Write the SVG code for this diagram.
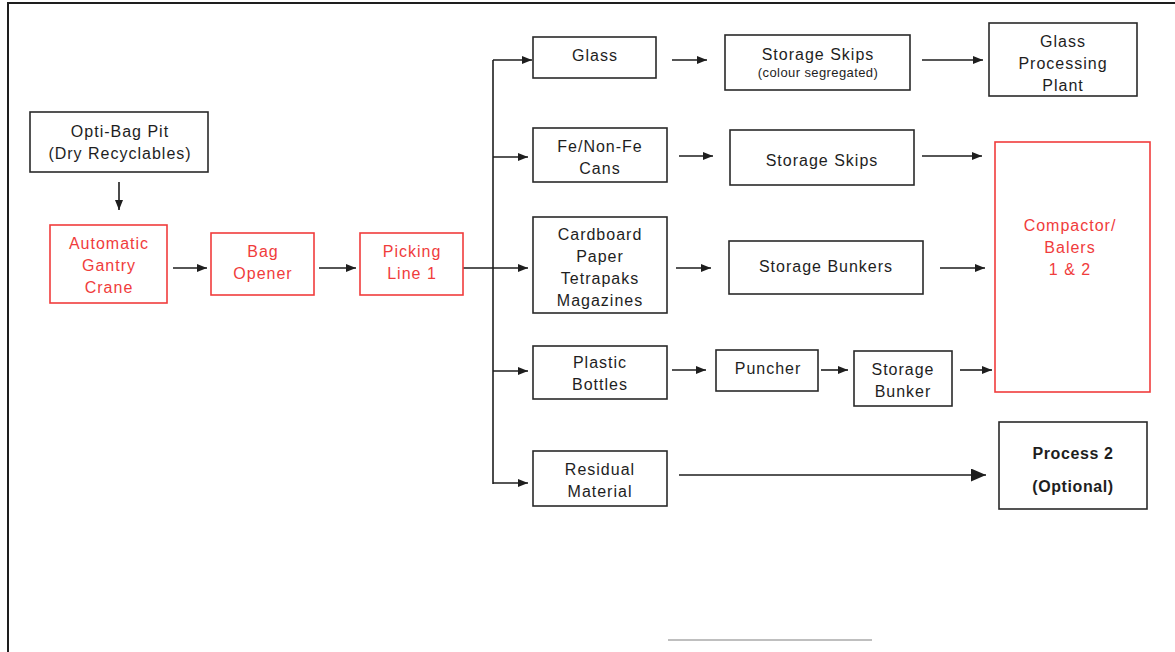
<svg xmlns="http://www.w3.org/2000/svg" width="1175" height="652" viewBox="0 0 1175 652">
  <defs>
    <style>
      .box { fill: #fff; stroke: #2a2a2a; stroke-width: 1.6; }
      .rbox { fill: #fff; stroke: #f03c3c; stroke-width: 1.6; }
      .t { font-family: "Liberation Sans", Arial, sans-serif; font-size: 16px; letter-spacing: 1px; fill: #1e1e1e; text-anchor: middle; }
      .r { fill: #f03c3c; }
      .s { font-size: 13px; letter-spacing: 0.4px; }
      .b { font-weight: bold; letter-spacing: 0.6px; }
      .c { stroke: #1e1e1e; stroke-width: 1.6; fill: none; }
    </style>
    <marker id="ah" markerUnits="userSpaceOnUse" markerWidth="10" markerHeight="8" refX="10" refY="4" orient="auto">
      <path d="M0,0 L10,4 L0,8 Z" fill="#1e1e1e"/>
    </marker>
    <marker id="ahBig" markerUnits="userSpaceOnUse" markerWidth="15" markerHeight="13" refX="15" refY="6.5" orient="auto">
      <path d="M0,0 L15,6.5 L0,13 Z" fill="#1e1e1e"/>
    </marker>
  </defs>

  <rect width="1175" height="652" fill="#fff"/>

  <!-- page frame -->
  <path d="M8,652 L8,3 L1175,3" fill="none" stroke="#1e1e1e" stroke-width="2"/>
  <line x1="668" y1="640" x2="872" y2="640" stroke="#aaa" stroke-width="1.5"/>

  <g id="connectors">
    <line class="c" x1="119" y1="182" x2="119" y2="210" marker-end="url(#ah)"/>
    <line class="c" x1="173" y1="268" x2="207" y2="268" marker-end="url(#ah)"/>
    <line class="c" x1="319" y1="268" x2="356" y2="268" marker-end="url(#ah)"/>
    <line class="c" x1="463" y1="268" x2="528" y2="268" marker-end="url(#ah)"/>
    <line class="c" x1="493" y1="60" x2="493" y2="484"/>
    <line class="c" x1="493" y1="60" x2="532" y2="60" marker-end="url(#ah)"/>
    <line class="c" x1="493" y1="157" x2="528" y2="157" marker-end="url(#ah)"/>
    <line class="c" x1="493" y1="371" x2="528" y2="371" marker-end="url(#ah)"/>
    <line class="c" x1="493" y1="483" x2="528" y2="483" marker-end="url(#ah)"/>
    <line class="c" x1="672" y1="60" x2="707" y2="60" marker-end="url(#ah)"/>
    <line class="c" x1="922" y1="60" x2="983" y2="60" marker-end="url(#ah)"/>
    <line class="c" x1="679" y1="156" x2="713" y2="156" marker-end="url(#ah)"/>
    <line class="c" x1="922" y1="156" x2="982" y2="156" marker-end="url(#ah)"/>
    <line class="c" x1="676" y1="268" x2="711" y2="268" marker-end="url(#ah)"/>
    <line class="c" x1="940" y1="268" x2="985" y2="268" marker-end="url(#ah)"/>
    <line class="c" x1="672" y1="370" x2="706" y2="370" marker-end="url(#ah)"/>
    <line class="c" x1="821" y1="370" x2="848" y2="370" marker-end="url(#ah)"/>
    <line class="c" x1="960" y1="370" x2="992" y2="370" marker-end="url(#ah)"/>
    <line class="c" x1="679" y1="475" x2="986" y2="475" marker-end="url(#ahBig)"/>
  </g>

  <g id="opti-bag-pit">
    <rect class="box" x="30" y="112" width="178" height="60"/>
    <text class="t" x="120" y="137">Opti-Bag Pit</text>
    <text class="t" x="120" y="159">(Dry Recyclables)</text>
  </g>

  <g id="gantry-crane">
    <rect class="rbox" x="50" y="225" width="117" height="78"/>
    <text class="t r" x="109" y="249">Automatic</text>
    <text class="t r" x="109" y="271">Gantry</text>
    <text class="t r" x="109" y="293">Crane</text>
  </g>

  <g id="bag-opener">
    <rect class="rbox" x="211" y="233" width="103" height="62"/>
    <text class="t r" x="263" y="257">Bag</text>
    <text class="t r" x="263" y="279">Opener</text>
  </g>

  <g id="picking-line">
    <rect class="rbox" x="360" y="233" width="103" height="62"/>
    <text class="t r" x="412" y="257">Picking</text>
    <text class="t r" x="412" y="279">Line 1</text>
  </g>

  <g id="glass">
    <rect class="box" x="533" y="37" width="123" height="41"/>
    <text class="t" x="595" y="61">Glass</text>
  </g>

  <g id="cans">
    <rect class="box" x="533" y="128" width="134" height="54"/>
    <text class="t" x="600" y="152">Fe/Non-Fe</text>
    <text class="t" x="600" y="174">Cans</text>
  </g>

  <g id="paper">
    <rect class="box" x="533" y="217" width="134" height="96"/>
    <text class="t" x="600" y="240">Cardboard</text>
    <text class="t" x="600" y="262">Paper</text>
    <text class="t" x="600" y="284">Tetrapaks</text>
    <text class="t" x="600" y="306">Magazines</text>
  </g>

  <g id="plastic">
    <rect class="box" x="533" y="346" width="134" height="53"/>
    <text class="t" x="600" y="368">Plastic</text>
    <text class="t" x="600" y="390">Bottles</text>
  </g>

  <g id="residual">
    <rect class="box" x="533" y="451" width="134" height="55"/>
    <text class="t" x="600" y="475">Residual</text>
    <text class="t" x="600" y="497">Material</text>
  </g>

  <g id="glass-skips">
    <rect class="box" x="725" y="35" width="185" height="55"/>
    <text class="t" x="818" y="60">Storage Skips</text>
    <text class="t s" x="818" y="77">(colour segregated)</text>
  </g>

  <g id="glass-plant">
    <rect class="box" x="989" y="23" width="148" height="73"/>
    <text class="t" x="1063" y="47">Glass</text>
    <text class="t" x="1063" y="69">Processing</text>
    <text class="t" x="1063" y="91">Plant</text>
  </g>

  <g id="can-skips">
    <rect class="box" x="730" y="130" width="184" height="55"/>
    <text class="t" x="822" y="166">Storage Skips</text>
  </g>

  <g id="paper-bunkers">
    <rect class="box" x="729" y="241" width="194" height="53"/>
    <text class="t" x="826" y="272">Storage Bunkers</text>
  </g>

  <g id="puncher">
    <rect class="box" x="716" y="350" width="102" height="41"/>
    <text class="t" x="768" y="374">Puncher</text>
  </g>

  <g id="plastic-bunker">
    <rect class="box" x="854" y="351" width="98" height="55"/>
    <text class="t" x="903" y="375">Storage</text>
    <text class="t" x="903" y="397">Bunker</text>
  </g>

  <g id="compactor">
    <rect class="rbox" x="995" y="142" width="155" height="250"/>
    <text class="t r" x="1070" y="231">Compactor/</text>
    <text class="t r" x="1070" y="253">Balers</text>
    <text class="t r" x="1070" y="275">1 &amp; 2</text>
  </g>

  <g id="process-2">
    <rect class="box" x="999" y="422" width="148" height="87"/>
    <text class="t b" x="1073" y="459">Process 2</text>
    <text class="t b" x="1073" y="492">(Optional)</text>
  </g>
</svg>
